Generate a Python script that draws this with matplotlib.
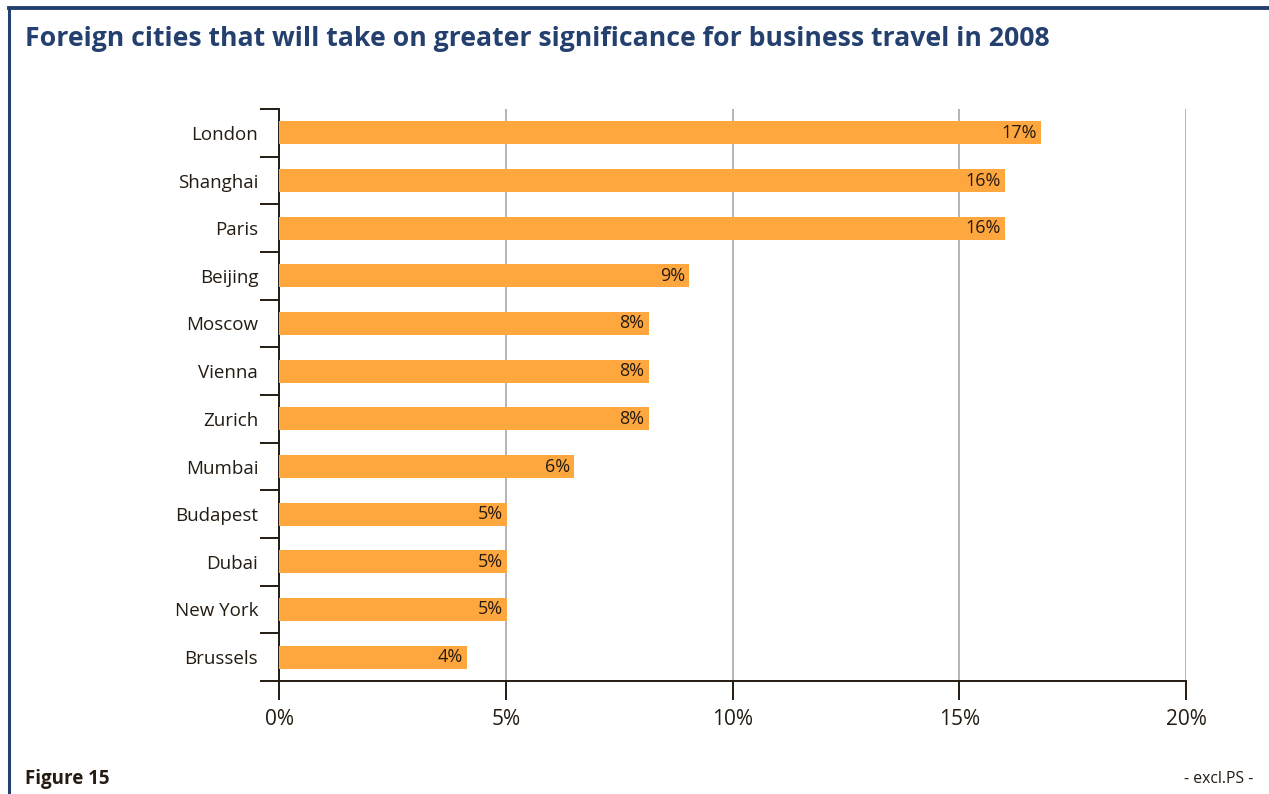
import matplotlib.pyplot as plt
from matplotlib.lines import Line2D

cities = ["London", "Shanghai", "Paris", "Beijing", "Moscow", "Vienna",
          "Zurich", "Mumbai", "Budapest", "Dubai", "New York", "Brussels"]
shares = [16.8, 16.0, 16.0, 9.05, 8.15, 8.15, 8.15, 6.5, 5.03, 5.03, 5.03, 4.15]
labels = ["17%", "16%", "16%", "9%", "8%", "8%", "8%", "6%", "5%", "5%", "5%", "4%"]
xticks = [0, 5, 10, 15, 20]
xticklabels = ["0%", "5%", "10%", "15%", "20%"]

plt.rcParams['font.family'] = ['Open Sans', 'DejaVu Sans']
dark = '#241b12'
navy = '#24406f'
bar_col = '#ffa73f'

fig = plt.figure(figsize=(12.69, 7.94), dpi=100)
ax = fig.add_axes([279 / 1269, 1 - 681 / 794, (1186 - 279) / 1269, (681 - 109) / 794])

ypos = list(range(len(cities)))
ax.barh(ypos, shares, height=0.48, color=bar_col, zorder=3)
for y, v, lab in zip(ypos, shares, labels):
    ax.text(v - 0.09, y, lab, ha='right', va='center', fontsize=13, color=dark, zorder=4)

ax.set_xlim(0, 20)
ax.set_ylim(len(cities) - 0.5, -0.5)

# vertical grid
for x in xticks[1:]:
    ax.axvline(x, color='#b4b4b4', lw=1.4, zorder=1)

ax.set_yticks([i - 0.5 for i in range(len(cities) + 1)])
ax.set_yticklabels([])
ax.set_yticks(ypos, minor=True)
ax.set_yticklabels(cities, minor=True, fontsize=13.5, color=dark)
ax.tick_params(axis='y', which='major', length=14, width=1.4, color=dark)
ax.tick_params(axis='y', which='minor', length=0, pad=15)

ax.set_xticks(xticks)
ax.set_xticklabels(xticklabels, fontsize=15, color=dark)
ax.tick_params(axis='x', length=14, width=1.4, color=dark, pad=6)

for s in ['top', 'right']:
    ax.spines[s].set_visible(False)
for s in ['left', 'bottom']:
    ax.spines[s].set_color(dark)
    ax.spines[s].set_linewidth(1.4)

# page frame
fig.add_artist(Line2D([9 / 1269, 9 / 1269], [0, 1 - 8 / 794], color=navy, lw=2.2))
fig.add_artist(Line2D([9 / 1269, 1], [1 - 8 / 794, 1 - 8 / 794], color=navy, lw=2.8))

fig.text(25 / 1269, 1 - 39 / 794, "Foreign cities that will take on greater significance for business travel in 2008",
         fontsize=19.2, fontweight='bold', color=navy, va='center', ha='left')
fig.text(25 / 1269, 1 - 779 / 794, "Figure 15", fontsize=13.5, fontweight='bold', color=dark,
         va='center', ha='left')
fig.text(1253 / 1269, 1 - 779 / 794, "- excl.PS -", fontsize=11.3, color=dark, va='center', ha='right')

fig.savefig("out.png", dpi=100)
